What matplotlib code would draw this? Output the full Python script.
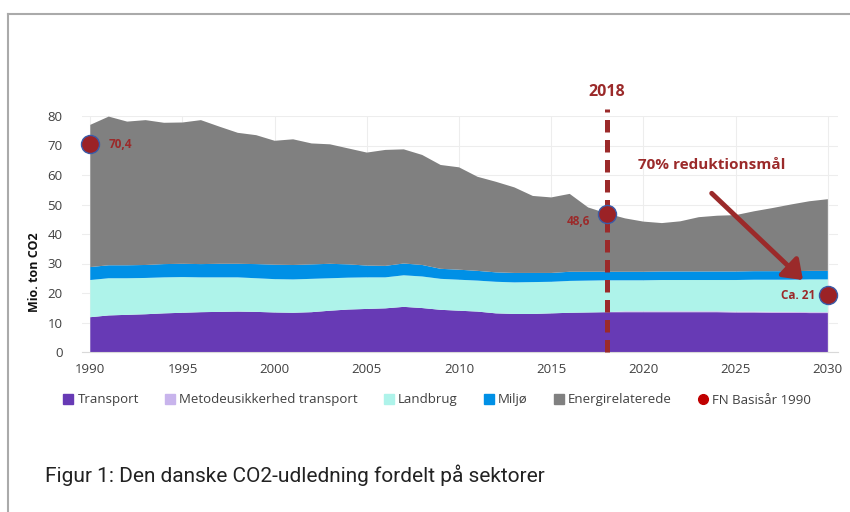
import matplotlib
matplotlib.use("Agg")
import matplotlib.pyplot as plt
from matplotlib.lines import Line2D
import numpy as np

plt.rcParams['font.family'] = ['Open Sans', 'DejaVu Sans']

years = list(range(1990, 2031))
transport = [11.8, 12.4, 12.6, 12.8, 13.1, 13.3, 13.5, 13.6, 13.7, 13.6,
             13.4, 13.3, 13.5, 14.0, 14.4, 14.6, 14.8, 15.3, 14.9, 14.3,
             14.0, 13.7, 13.1, 12.9, 12.9, 13.1, 13.3, 13.4, 13.5, 13.5,
             13.5, 13.5, 13.5, 13.5, 13.5, 13.4, 13.4, 13.3, 13.3, 13.2, 13.2]
metode = [0.0] * 29 + [0.3] * 12
landbrug = [12.6, 12.6, 12.4, 12.3, 12.2, 12.1, 11.8, 11.7, 11.6, 11.4,
            11.3, 11.3, 11.3, 11.0, 10.8, 10.7, 10.5, 10.7, 10.7, 10.5,
            10.5, 10.5, 10.7, 10.7, 10.8, 10.7, 10.8, 10.8, 10.8, 10.5,
            10.5, 10.6, 10.6, 10.6, 10.6, 10.7, 10.8, 10.9, 10.9, 11.1, 11.1]
miljoe = [4.4, 4.4, 4.4, 4.4, 4.5, 4.5, 4.5, 4.6, 4.6, 4.8,
          4.9, 4.9, 4.9, 4.9, 4.5, 4.0, 3.9, 4.0, 3.9, 3.4,
          3.4, 3.3, 3.2, 3.2, 3.1, 3.0, 3.1, 3.0, 2.9, 2.9,
          2.9, 2.9, 2.9, 2.9, 2.9, 2.9, 2.9, 2.9, 2.9, 2.9, 2.9]
energi = [48.2, 50.4, 48.7, 49.1, 47.9, 47.9, 48.8, 46.5, 44.4, 43.7,
          42.0, 42.6, 41.0, 40.5, 39.3, 38.3, 39.3, 38.7, 37.3, 35.2,
          34.7, 31.9, 30.7, 29.0, 26.1, 25.6, 26.4, 21.8, 19.8, 18.1,
          17.0, 16.4, 17.0, 18.4, 18.9, 19.1, 20.3, 21.4, 22.6, 23.6, 24.3]

series_names = ["Transport", "Metodeusikkerhed transport", "Landbrug", "Miljø", "Energirelaterede"]
series_colors = ["#673AB5", "#C8B4EC", "#AEF3EA", "#0090E6", "#808080"]

fn_years = [1990, 2018, 2030]
fn_values = [70.4, 46.8, 19.3]
fn_labels = ["70,4", "48,6", "Ca. 21"]

xticks = [1990, 1995, 2000, 2005, 2010, 2015, 2020, 2025, 2030]
yticks = [0, 10, 20, 30, 40, 50, 60, 70, 80]

red = "#9B2A2A"

fig = plt.figure(figsize=(8.5, 5.12), dpi=100)
ax = fig.add_axes([82/850, 1-352/512, (838-82)/850, (352-116)/512])

ax.stackplot(years, transport, metode, landbrug, miljoe, energi,
             colors=series_colors, labels=series_names, linewidth=0, zorder=2)

ax.set_xlim(1989.55, 2030.55)
ax.set_ylim(0, 80)
ax.set_xticks(xticks)
ax.set_yticks(yticks)
ax.grid(True, color="#EDEDED", linewidth=0.8, zorder=0)
ax.set_axisbelow(True)
for s in ["top", "right", "left"]:
    ax.spines[s].set_visible(False)
ax.spines["bottom"].set_color("#D9D9D9")
ax.tick_params(length=0, labelsize=9.5, colors="#404040", pad=8)
ax.tick_params(axis='y', pad=14)

fig.text(35/850, 1-272/512, "Mio. ton CO2", rotation=90, fontsize=9, fontweight="bold",
         ha="center", va="center", color="#111111")

# 2018 dashed line
ax.plot([2018, 2018], [0, 82.5], color=red, linewidth=3.6, linestyle=(0, (2.5, 1.5)),
        clip_on=False, zorder=4)
ax.text(2018, 88, "2018", color=red, fontsize=11.5, fontweight="bold",
        ha="center", va="center")

# FN markers
ax.plot(fn_years, fn_values, linestyle="none", marker="o", markersize=13,
        markerfacecolor="#9B2226", markeredgecolor="#3A5BA8", markeredgewidth=1,
        clip_on=False, zorder=6)
ax.text(1991.0, 70.4, fn_labels[0], color=red, fontsize=8.5, fontweight="bold",
        ha="left", va="center")
ax.text(2017.1, 44.2, fn_labels[1], color=red, fontsize=8.5, fontweight="bold",
        ha="right", va="center")
ax.text(2029.3, 19.3, fn_labels[2], color=red, fontsize=8.5, fontweight="bold",
        ha="right", va="center")

ax.text(2019.7, 63.5, "70% reduktionsmål", color=red, fontsize=11, fontweight="bold",
        ha="left", va="center")
ax.annotate("", xy=(2028.65, 24.4), xytext=(2023.7, 53.8),
            arrowprops=dict(arrowstyle="-|>,head_length=1.1,head_width=0.8",
                            color=red, linewidth=3.5, shrinkA=0, shrinkB=0),
            zorder=5)

# legend
handles = [Line2D([], [], linestyle="none", marker="s", markersize=7,
                  markerfacecolor=c, markeredgecolor=c) for c in series_colors]
handles.append(Line2D([], [], linestyle="none", marker="o", markersize=7,
                      markerfacecolor="#C00000", markeredgecolor="#C00000"))
labels = series_names + ["FN Basisår 1990"]
fig.legend(handles, labels, loc="center", bbox_to_anchor=(437/850, 1-400/512),
           ncol=6, frameon=False, fontsize=9.5, handlelength=0.8, handletextpad=0.3,
           columnspacing=1.95, labelcolor="#404040")

# caption
fig.text(45/850, 1-475/512, "Figur 1: Den danske CO2-udledning fordelt på sektorer",
         fontsize=15, color="#222222", ha="left", va="center", family=["Roboto", "DejaVu Sans"])

# frame lines
fig.add_artist(Line2D([8/850, 8/850], [0, 1-14/512], color="#AAAAAA", linewidth=1.5,
                      transform=fig.transFigure))
fig.add_artist(Line2D([8/850, 1], [1-14/512, 1-14/512], color="#AAAAAA", linewidth=1.5,
                      transform=fig.transFigure))

fig.savefig("out.png", dpi=100, facecolor="white")
